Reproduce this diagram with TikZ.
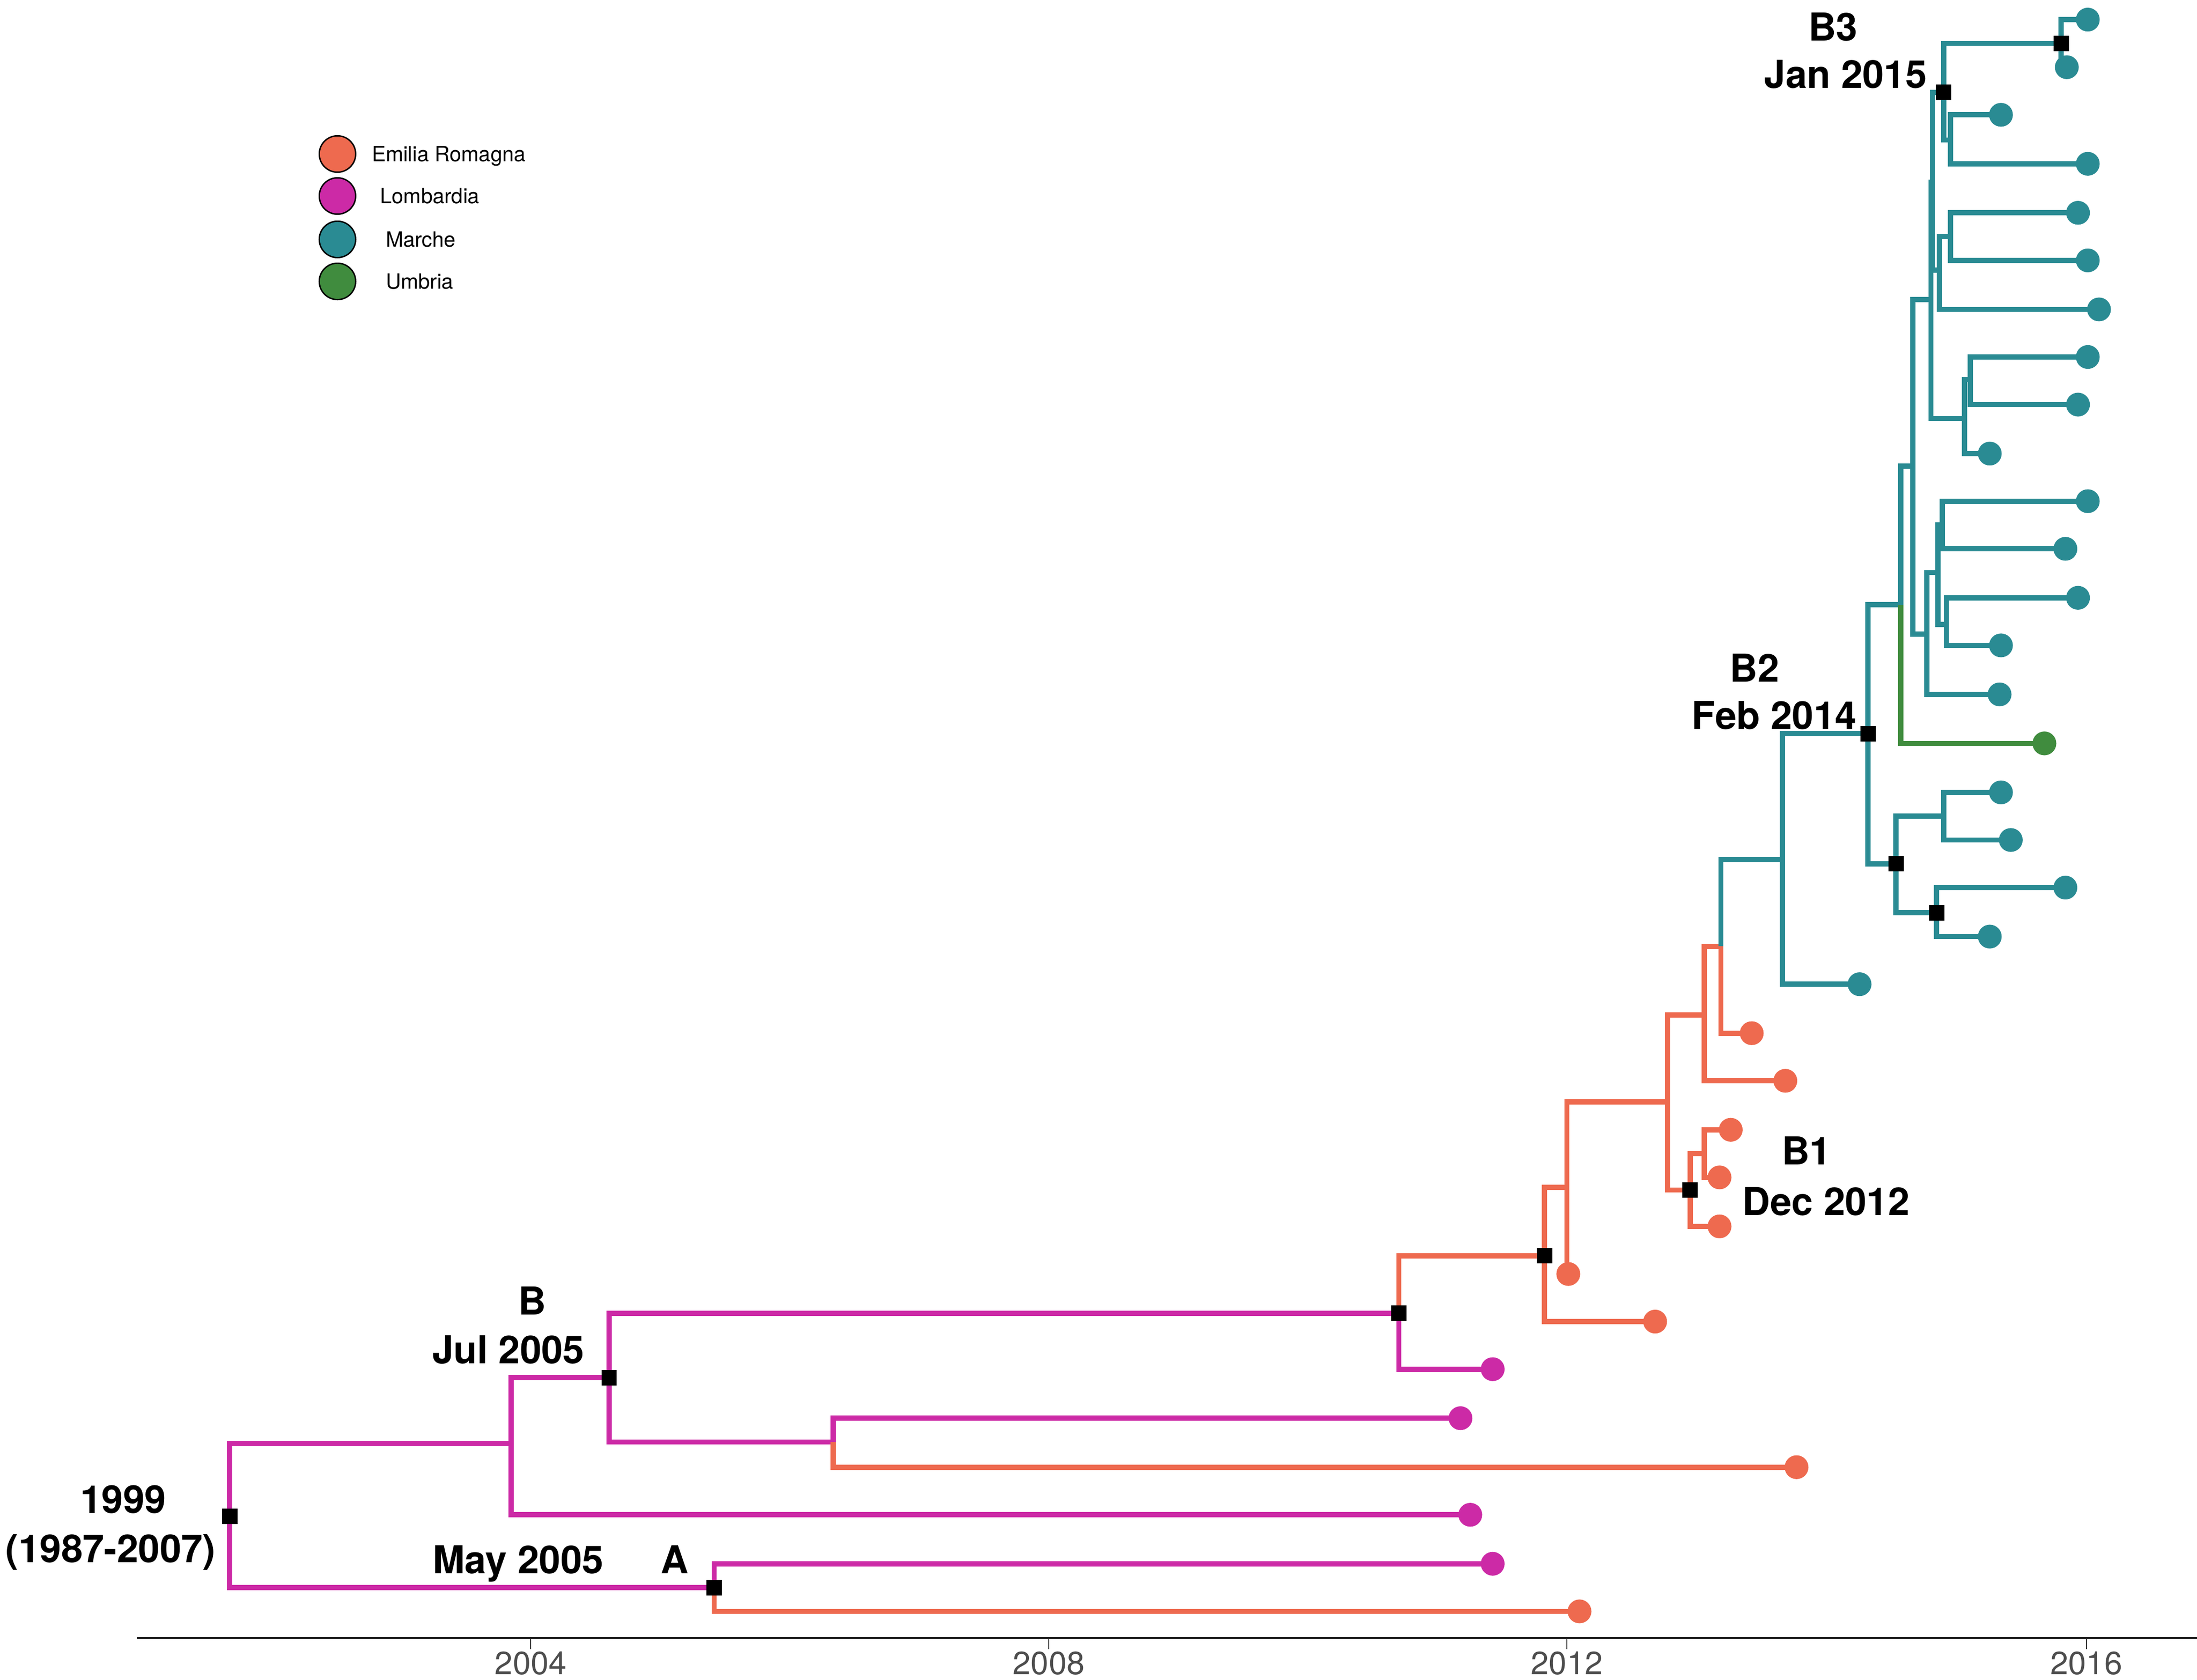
\documentclass[tikz,border=0pt]{standalone}
\usepackage{fontspec}
\setmainfont{TeX Gyre Heros}
\definecolor{emr}{HTML}{EE6A4F}
\definecolor{lom}{HTML}{CC2AA6}
\definecolor{mar}{HTML}{2A8B93}
\definecolor{umb}{HTML}{408C3E}
\definecolor{axgray}{HTML}{4D4D4D}
\begin{document}
\begin{tikzpicture}[x=1pt,y=-1pt,
  br/.style={line width=3.7pt, line join=miter},
  tipdot/.style={circle, fill=#1, inner sep=0pt, minimum size=17pt},
  sq/.style={rectangle, fill=black, inner sep=0pt, minimum size=11pt},
  lab/.style={font=\fontsize{27.5}{30}\selectfont\bfseries, anchor=base},
  legdot/.style={circle, draw=black, line width=1pt, fill=#1, inner sep=0pt, minimum size=26pt},
  legtxt/.style={font=\fontsize{15}{18}\selectfont, anchor=base west},
  yr/.style={font=\fontsize{23}{26}\selectfont, text=axgray, anchor=base}
]
\useasboundingbox (0,0) rectangle (1569,1200);

% internal nodes
\coordinate (R0) at (164,1083);
\coordinate (P1) at (365,1031);
\coordinate (A) at (510,1134);
\coordinate (B) at (435,984);
\coordinate (C) at (999,938);
\coordinate (D) at (595,1030);
\coordinate (E) at (1103,897);
\coordinate (F) at (1119,848);
\coordinate (G) at (1191,787);
\coordinate (H) at (1217,725);
\coordinate (I) at (1229,676);
\coordinate (J) at (1273,614);
\coordinate (B1) at (1207,850);
\coordinate (K) at (1217,824);
\coordinate (B2) at (1334,524);
\coordinate (W) at (1357.5,432);
\coordinate (L1) at (1354,617);
\coordinate (L2) at (1388,583);
\coordinate (L3) at (1383,652);
\coordinate (S) at (1366,333);
\coordinate (Rn) at (1379,214);
\coordinate (V) at (1376,453);
\coordinate (V1) at (1384,409);
\coordinate (V2) at (1387,375);
\coordinate (V3) at (1390,446);
\coordinate (Q) at (1380,130);
\coordinate (T) at (1403,299);
\coordinate (T1) at (1407,271);
\coordinate (B3) at (1388,66);
\coordinate (U) at (1385,193);
\coordinate (U1) at (1393,169);
\coordinate (B3t) at (1472,31);
\coordinate (N) at (1393,100);

% tips
\coordinate (tP1) at (1050,1082);
\coordinate (tC) at (1066,978);
\coordinate (tD1) at (1043,1013);
\coordinate (tD2) at (1283,1048);
\coordinate (tA1) at (1066,1117);
\coordinate (tA2) at (1128,1151);
\coordinate (tE) at (1182,944);
\coordinate (tF) at (1120,910);
\coordinate (tH) at (1275,772);
\coordinate (tI) at (1251,738);
\coordinate (tB1) at (1228,876);
\coordinate (tK1) at (1236,807);
\coordinate (tK2) at (1228,841);
\coordinate (tJ) at (1328,703);
\coordinate (tW) at (1460,531);
\coordinate (tL2a) at (1429,566);
\coordinate (tL2b) at (1436,600);
\coordinate (tL3a) at (1475,634);
\coordinate (tL3b) at (1421,669);
\coordinate (tV) at (1428,496);
\coordinate (tV2a) at (1491,358);
\coordinate (tV2b) at (1475,392);
\coordinate (tV3a) at (1484,427);
\coordinate (tV3b) at (1429,461);
\coordinate (tT) at (1421,324);
\coordinate (tT1a) at (1491,255);
\coordinate (tT1b) at (1484,289);
\coordinate (tU) at (1499,221);
\coordinate (tU1a) at (1484,152);
\coordinate (tU1b) at (1491,186);
\coordinate (tN1) at (1429,82);
\coordinate (tN2) at (1491,117);
\coordinate (tB3a) at (1491,14);
\coordinate (tB3b) at (1476,48);

% branches
\foreach \p/\c/\col in {R0/P1/lom, R0/A/lom, P1/B/lom, P1/tP1/lom, B/C/lom, B/D/lom,
  C/E/emr, C/tC/lom, D/tD1/lom, D/tD2/emr, A/tA1/lom, A/tA2/emr,
  E/F/emr, E/tE/emr, F/G/emr, F/tF/emr, G/H/emr, G/B1/emr, H/I/emr, H/tH/emr,
  I/J/mar, I/tI/emr, B1/K/emr, B1/tB1/emr, K/tK1/emr, K/tK2/emr,
  J/B2/mar, J/tJ/mar, B2/W/mar, B2/L1/mar, W/S/mar, W/tW/umb,
  L1/L2/mar, L1/L3/mar, L2/tL2a/mar, L2/tL2b/mar, L3/tL3a/mar, L3/tL3b/mar,
  S/Rn/mar, S/V/mar, V/V1/mar, V/tV/mar, V1/V2/mar, V1/V3/mar,
  V2/tV2a/mar, V2/tV2b/mar, V3/tV3a/mar, V3/tV3b/mar,
  Rn/Q/mar, Rn/T/mar, T/T1/mar, T/tT/mar, T1/tT1a/mar, T1/tT1b/mar,
  Q/B3/mar, Q/U/mar, U/U1/mar, U/tU/mar, U1/tU1a/mar, U1/tU1b/mar,
  B3/B3t/mar, B3/N/mar, N/tN1/mar, N/tN2/mar, B3t/tB3a/mar, B3t/tB3b/mar}
  \draw[br, \col] (\p) |- (\c);

% tip dots
\foreach \t/\col in {tP1/lom, tC/lom, tD1/lom, tD2/emr, tA1/lom, tA2/emr, tE/emr, tF/emr,
  tH/emr, tI/emr, tB1/emr, tK1/emr, tK2/emr, tJ/mar, tW/umb, tL2a/mar, tL2b/mar,
  tL3a/mar, tL3b/mar, tV/mar, tV2a/mar, tV2b/mar, tV3a/mar, tV3b/mar, tT/mar,
  tT1a/mar, tT1b/mar, tU/mar, tU1a/mar, tU1b/mar, tN1/mar, tN2/mar, tB3a/mar, tB3b/mar}
  \node[tipdot=\col] (d\t) at (\t) {};

% node squares
\foreach \n in {R0, B, A, C, E, B1, B2, L1, L3, B3, B3t}
  \node[sq] (s\n) at (\n) {};

% labels
\node[lab] (lB3) at (1309,29) {B3};
\node[lab] (lB3d) at (1318,63) {Jan 2015};
\node[lab] (lB2) at (1253,487) {B2};
\node[lab] (lB2d) at (1267,521) {Feb 2014};
\node[lab] (lB1) at (1290,832) {B1};
\node[lab] (lB1d) at (1304,868) {Dec 2012};
\node[lab] (lB) at (380,939) {B};
\node[lab] (lBd) at (363,974) {Jul 2005};
\node[lab] (lR) at (88,1081) {1999};
\node[lab] (lRd) at (79,1116) {(1987-2007)};
\node[lab] (lAd) at (370,1124) {May 2005};
\node[lab] (lA) at (482,1124) {A};

% legend
\node[legdot=emr] (g1) at (241,110) {};
\node[legdot=lom] (g2) at (241,140) {};
\node[legdot=mar] (g3) at (241,171) {};
\node[legdot=umb] (g4) at (241,201) {};
\node[legtxt] (gt1) at (262,115.5) {Emilia Romagna};
\node[legtxt] (gt2) at (268,145.5) {Lombardia};
\node[legtxt] (gt3) at (272,176.5) {Marche};
\node[legtxt] (gt4) at (272,206.5) {Umbria};

% axis
\coordinate (axL) at (98,1170);
\coordinate (axR) at (1569,1170);
\draw[line width=1.6pt, black!85] (axL) -- (axR);
\foreach \x/\y in {379/2004, 749/2008, 1119/2012, 1490/2016} {
  \draw[line width=0.8pt, black!85] (\x,1170) -- (\x,1178);
  \node[yr] (y\y) at (\x,1196) {\y};
}
\end{tikzpicture}
\end{document}
